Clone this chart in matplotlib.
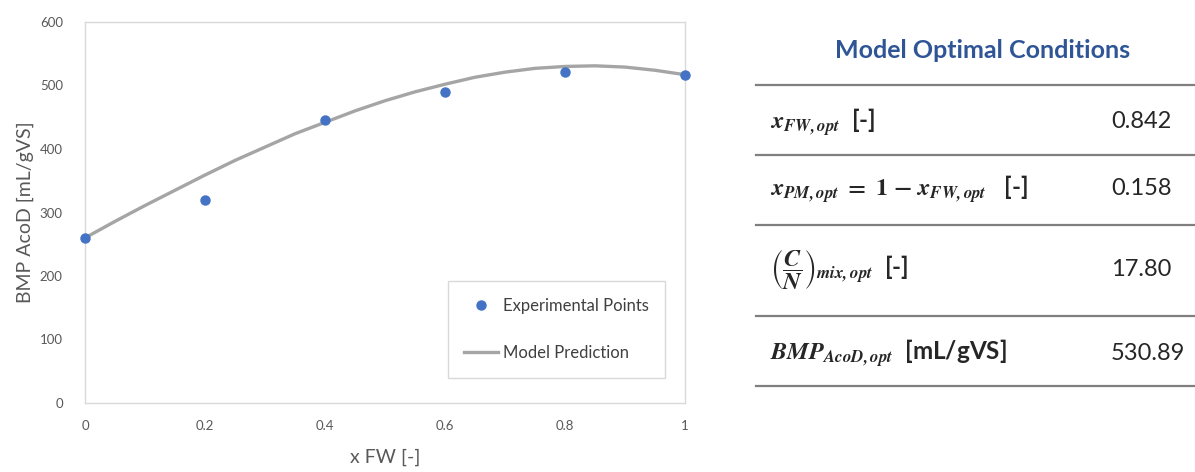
import matplotlib
matplotlib.use('Agg')
import matplotlib.pyplot as plt
from matplotlib.lines import Line2D

plt.rcParams['font.family'] = ['Lato', 'DejaVu Sans']
plt.rcParams['mathtext.fontset'] = 'stix'

# experimental points
x_exp = [0, 0.2, 0.4, 0.6, 0.8, 1.0]
y_exp = [260, 320, 445, 490, 522, 517]

# model prediction
x_mod = [0, 0.05, 0.1, 0.15, 0.2, 0.25, 0.3, 0.35, 0.4, 0.45, 0.5,
         0.55, 0.6, 0.65, 0.7, 0.75, 0.8, 0.85, 0.9, 0.95, 1.0]
y_mod = [260, 286, 311, 335, 359, 382, 403, 424, 442, 460, 476,
         490, 502, 513, 521, 527, 530, 531, 529, 524, 517]

xticks = [0, 0.2, 0.4, 0.6, 0.8, 1]
xtick_labels = ['0', '0.2', '0.4', '0.6', '0.8', '1']
yticks = [0, 100, 200, 300, 400, 500, 600]

# table
table_title = 'Model Optimal Conditions'
row_labels = [
    r'$\mathbfit{x}_{\mathbfit{FW,opt}}$  [-]',
    r'$\mathbfit{x}_{\mathbfit{PM,opt}}\ \mathbf{=}\ \mathbf{1}\ \mathbf{-}\ \mathbfit{x}_{\mathbfit{FW,opt}}$   [-]',
    r'$\left(\dfrac{\mathbfit{C}}{\mathbfit{N}}\right)_{\mathbfit{mix,opt}}$  [-]',
    r'$\mathbfit{BMP}_{\mathbfit{AcoD,opt}}$  [mL/gVS]',
]
row_values = ['0.842', '0.158', '17.80', '530.89']

W, H = 1195, 472
fig = plt.figure(figsize=(W / 100, H / 100), dpi=100)
ax = fig.add_axes([85 / W, 1 - 403 / H, 600 / W, 381 / H])

ax.plot(x_mod, y_mod, color='#a5a5a5', lw=2.4, label='Model Prediction', zorder=2)
ax.plot(x_exp, y_exp, 'o', color='#4472c4', ms=6.5, label='Experimental Points', zorder=3, clip_on=False)

ax.set_xlim(0, 1)
ax.set_ylim(0, 600)
ax.set_xticks(xticks)
ax.set_xticklabels(xtick_labels)
ax.set_yticks(yticks)
ax.tick_params(length=0, labelsize=9.5, colors='#595959', pad=12)
ax.tick_params(axis='y', pad=16)
for s in ax.spines.values():
    s.set_color('#d9d9d9')
    s.set_linewidth(1)

ax.set_xlabel('x FW [-]', fontsize=14, color='#595959', labelpad=12)
ax.set_ylabel('BMP AcoD [mL/gVS]', fontsize=14, color='#595959', labelpad=4)

h, l = ax.get_legend_handles_labels()
leg = ax.legend(h[::-1], l[::-1], loc='lower right', bbox_to_anchor=(0.967, 0.066),
                borderaxespad=0, fontsize=12, labelspacing=1.9, handlelength=2.0,
                handletextpad=0.3, borderpad=1.0, fancybox=False,
                edgecolor='#d9d9d9', framealpha=1)
leg.get_frame().set_linewidth(1)
for t in leg.get_texts():
    t.set_color('#404040')

# table on the right
fig.text(983 / W, 1 - 50 / H, table_title, ha='center', va='center',
         fontsize=18, fontweight='bold', color='#2f5597')

line_y = [85, 155, 225, 316, 386]
for yy in line_y:
    fig.add_artist(Line2D([756 / W, 1.0], [1 - yy / H] * 2, color='#7f7f7f', lw=1.6))

row_y = [122, 189, 270, 353]
for lab, val, yy in zip(row_labels, row_values, row_y):
    fig.text(770 / W, 1 - yy / H, lab, ha='left', va='center', fontsize=17.5,
             fontweight='bold', color='#262626')
    fig.text(1111 / W, 1 - yy / H, val, ha='left', va='center', fontsize=17,
             color='#262626')

fig.savefig('out.png', dpi=100)
